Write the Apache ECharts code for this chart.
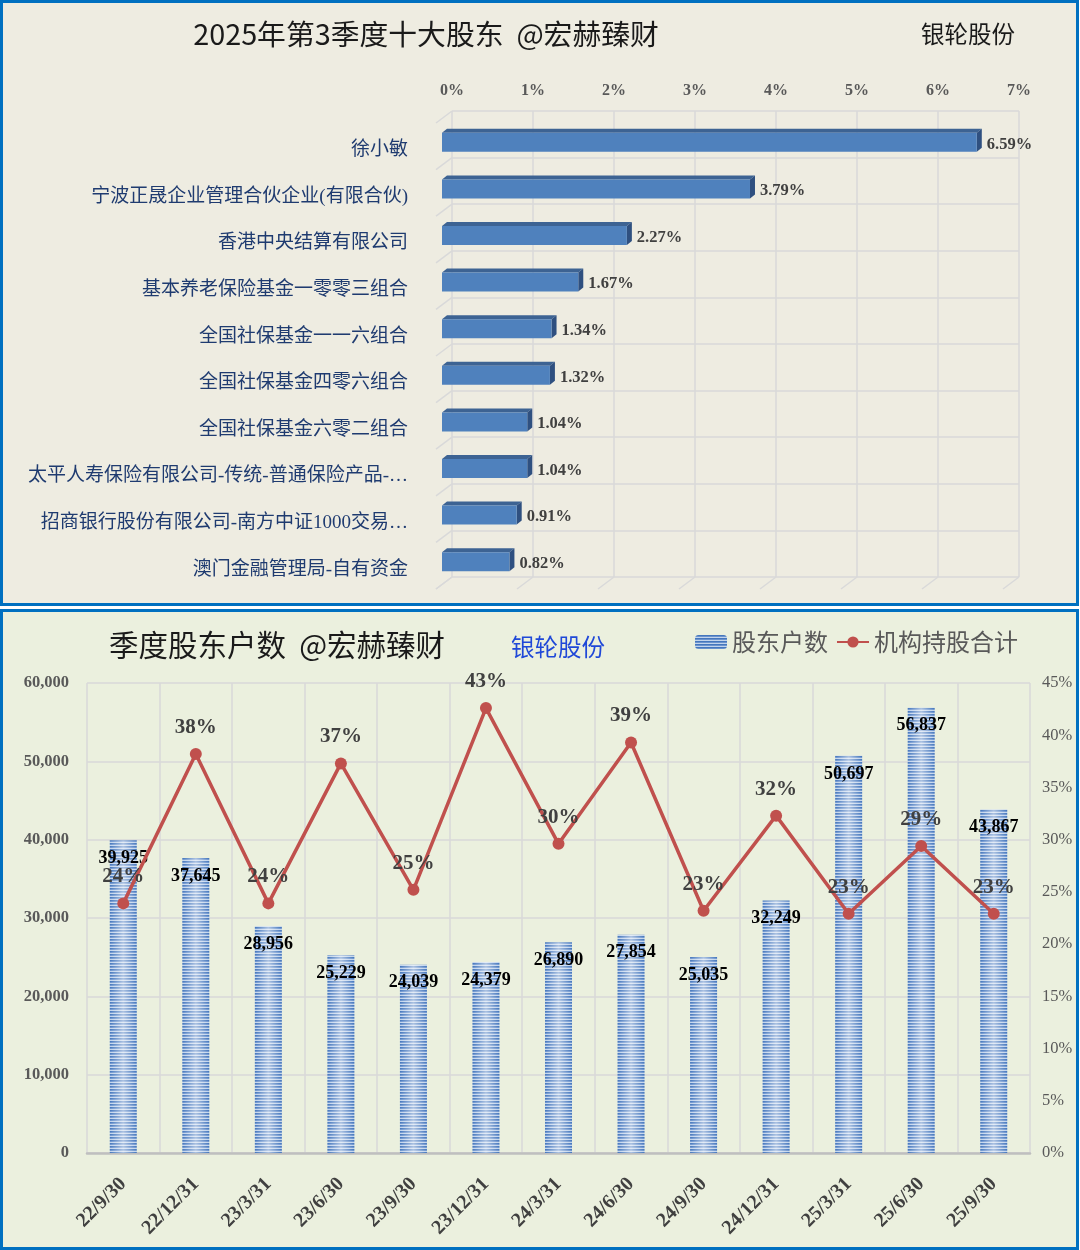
<!DOCTYPE html>
<html><head><meta charset="utf-8">
<script src="https://cdn.jsdelivr.net/npm/echarts@6/dist/echarts.min.js"></script>
<style>html,body{margin:0;padding:0;background:#fff;}#c{width:1080px;height:1250px;}</style>
</head><body><div id="c"></div>
<script>
// ---------- data ----------
const holderNames = [
  '徐小敏',
  '宁波正晟企业管理合伙企业(有限合伙)',
  '香港中央结算有限公司',
  '基本养老保险基金一零零三组合',
  '全国社保基金一一六组合',
  '全国社保基金四零六组合',
  '全国社保基金六零二组合',
  '太平人寿保险有限公司-传统-普通保险产品-…',
  '招商银行股份有限公司-南方中证1000交易…',
  '澳门金融管理局-自有资金'
];
const holderPct = [6.59, 3.79, 2.27, 1.67, 1.34, 1.32, 1.04, 1.04, 0.91, 0.82];

const quarters = ['22/9/30','22/12/31','23/3/31','23/6/30','23/9/30','23/12/31','24/3/31','24/6/30','24/9/30','24/12/31','25/3/31','25/6/30','25/9/30'];
const holderCounts = [39925, 37645, 28956, 25229, 24039, 24379, 26890, 27854, 25035, 32249, 50697, 56837, 43867];
const instPct = [23.9, 38.2, 23.9, 37.3, 25.2, 42.6, 29.6, 39.3, 23.2, 32.3, 22.9, 29.4, 22.9];

// ---------- styles ----------
const SERIF = "'Liberation Serif','Noto Sans CJK SC',serif";
const CJK = "'Noto Sans CJK SC',sans-serif";
const GRID = '#d9d9d9';

function stripePattern() {
  const cv = document.createElement('canvas');
  cv.width = 4; cv.height = 3;
  const ctx = cv.getContext('2d');
  ctx.fillStyle = '#4577bd'; ctx.fillRect(0, 0, 4, 1);
  ctx.fillStyle = '#6b93cd'; ctx.fillRect(0, 1, 4, 1);
  ctx.fillStyle = '#c2d4ec'; ctx.fillRect(0, 2, 4, 1);
  return { image: cv, repeat: 'repeat' };
}
const pattern = stripePattern();

const chart = echarts.init(document.getElementById('c'), null, { renderer: 'canvas' });

const option = {
  animation: false,
  backgroundColor: '#ffffff',
  graphic: [
    { type: 'rect', z: -10, silent: true, shape: { x: 1.5, y: 1.5, width: 1076, height: 603 },
      style: { fill: '#eeece1', stroke: '#0070c0', lineWidth: 3 } },
    { type: 'rect', z: -10, silent: true, shape: { x: 1.5, y: 610.5, width: 1076, height: 638 },
      style: { fill: '#ebf0de', stroke: '#0070c0', lineWidth: 3 } },
    { type: 'text', x: 426, y: 34, style: { text: '2025年第3季度十大股东  @宏赫臻财', font: "28.8px 'Noto Sans CJK SC'", fill: '#1a1a1a', align: 'center', verticalAlign: 'middle' } },
    { type: 'text', x: 968, y: 34, style: { text: '银轮股份', font: "23.5px 'Noto Sans CJK SC'", fill: '#1a1a1a', align: 'center', verticalAlign: 'middle' } },
    { type: 'text', x: 277, y: 645, style: { text: '季度股东户数  @宏赫臻财', font: "29.5px 'Noto Sans CJK SC'", fill: '#1a1a1a', align: 'center', verticalAlign: 'middle' } },
    { type: 'text', x: 558, y: 647, style: { text: '银轮股份', font: "23.5px 'Noto Sans CJK SC'", fill: '#1f48d8', align: 'center', verticalAlign: 'middle' } }
  ],
  legend: {
    left: 695, top: 630, padding: 0, itemWidth: 32, itemHeight: 14, itemGap: 8,
    textStyle: { fontFamily: CJK, fontSize: 24, color: '#595959' },
    data: ['股东户数', '机构持股合计']
  },
  grid: [
    { left: 452, top: 111, width: 567, height: 466 },
    { left: 87, right: 50, top: 683, bottom: 97 }
  ],
  xAxis: [
    { gridIndex: 0, type: 'value', position: 'top', min: 0, max: 7, interval: 1,
      axisLine: { show: false }, axisTick: { show: false },
      splitLine: { lineStyle: { color: GRID, width: 1.5 } },
      axisLabel: { formatter: '{value}%', margin: 12, fontFamily: SERIF, fontWeight: 'bold', fontSize: 16, color: '#595959' } },
    { gridIndex: 1, type: 'category', data: quarters, boundaryGap: true,
      axisTick: { show: false },
      axisLine: { lineStyle: { color: '#bfbfbf', width: 2.5 } },
      splitLine: { show: true, lineStyle: { color: GRID, width: 1.5 } },
      axisLabel: { interval: 0, rotate: 45, margin: 28, fontFamily: SERIF, fontWeight: 'bold', fontSize: 20, color: '#404040' } }
  ],
  yAxis: [
    { gridIndex: 0, type: 'category', data: holderNames, inverse: true,
      axisLine: { show: false }, axisTick: { show: false },
      splitLine: { show: true, lineStyle: { color: GRID, width: 1.5 } },
      axisLabel: { margin: 44, verticalAlign: 'top', lineHeight: 32, fontFamily: SERIF, fontSize: 19, color: '#1f3b70' } },
    { gridIndex: 1, type: 'value', min: 0, max: 60000, interval: 10000,
      axisLine: { show: false }, axisTick: { show: false },
      splitLine: { lineStyle: { color: GRID, width: 1.5 } },
      axisLabel: { margin: 18, formatter: v => v.toLocaleString('en-US'), fontFamily: SERIF, fontWeight: 'bold', fontSize: 16.5, color: '#595959' } },
    { gridIndex: 1, type: 'value', min: 0, max: 45, interval: 5, position: 'right',
      axisLine: { show: false }, axisTick: { show: false }, splitLine: { show: false },
      axisLabel: { margin: 12, formatter: '{value}%', fontFamily: SERIF, fontSize: 16.5, color: '#595959' } }
  ],
  series: [
    {
      type: 'custom', xAxisIndex: 0, yAxisIndex: 0,
      data: holderPct.map((v, i) => [v, i]),
      encode: { x: 0, y: 1 },
      renderItem: function (params, api) {
        const v = api.value(0), c = api.value(1);
        const p0 = api.coord([0, c]);
        const p1 = api.coord([v, c]);
        const x0 = p0[0] - 10, x1 = p1[0] - 9;
        const yc = p0[1] + 8, h = 19;
        const yt = yc - h / 2, yb = yc + h / 2;
        const dx = 5, dy = 4;
        return {
          type: 'group',
          children: [
            { type: 'polygon', shape: { points: [[x0, yt], [x1, yt], [x1 + dx, yt - dy], [x0 + dx, yt - dy]] },
              style: { fill: '#3d6393' } },
            { type: 'polygon', shape: { points: [[x1, yt], [x1 + dx, yt - dy], [x1 + dx, yb - dy], [x1, yb]] },
              style: { fill: '#2f5080' } },
            { type: 'rect', shape: { x: x0, y: yt, width: x1 - x0, height: h },
              style: { fill: '#4f81bd' } },
            { type: 'text', x: x1 + 10, y: yc + 2,
              style: { text: v.toFixed(2) + '%', font: "bold 16.5px 'Liberation Serif'", fill: '#404040', align: 'left', verticalAlign: 'middle' } }
          ]
        };
      }
    },
    {
      name: '股东户数', type: 'bar', xAxisIndex: 1, yAxisIndex: 1, barWidth: 27,
      data: holderCounts,
      itemStyle: { color: pattern },
      label: { show: true, position: 'insideTop', distance: 9, formatter: p => p.value.toLocaleString('en-US'),
        fontFamily: SERIF, fontWeight: 'bold', fontSize: 18, color: '#000' },
      z: 2
    },
    {
      name: '股东户数', type: 'bar', xAxisIndex: 1, yAxisIndex: 1, barWidth: 27, barGap: '-100%',
      data: holderCounts, silent: true,
      itemStyle: { color: { type: 'linear', x: 0, y: 0, x2: 1, y2: 0, colorStops: [
        { offset: 0, color: 'rgba(255,255,255,0)' },
        { offset: 0.5, color: 'rgba(255,255,255,0.55)' },
        { offset: 1, color: 'rgba(255,255,255,0)' } ] } },
      z: 2
    },
    {
      name: '机构持股合计', type: 'line', xAxisIndex: 1, yAxisIndex: 2,
      data: instPct, symbol: 'circle', symbolSize: 12,
      lineStyle: { color: '#c0504d', width: 3.5 },
      itemStyle: { color: '#c0504d' },
      label: { show: true, position: 'top', distance: 10, formatter: p => Math.round(p.value) + '%',
        fontFamily: SERIF, fontWeight: 'bold', fontSize: 21, color: '#404040' },
      z: 5
    }
  ]
};
chart.setOption(option);

// 3D wall/floor diagonals for top chart, computed from the axes
(function () {
  const a = chart.convertToPixel({ xAxisIndex: 0, yAxisIndex: 0 }, [0, 0]);
  const b = chart.convertToPixel({ xAxisIndex: 0, yAxisIndex: 0 }, [1, 1]);
  const band = b[1] - a[1];
  const xL = a[0];
  const yTop = a[1] - band / 2;
  const yBot = yTop + band * holderNames.length;
  const step = b[0] - a[0];
  const lines = [];
  for (let k = 0; k <= holderNames.length; k++) {
    const y = yTop + band * k;
    lines.push({ type: 'line', silent: true, z: -5, shape: { x1: xL, y1: y, x2: xL - 16, y2: y + 12 }, style: { stroke: GRID, lineWidth: 1.5 } });
  }
  for (let k = 0; k <= 7; k++) {
    const x = xL + step * k;
    lines.push({ type: 'line', silent: true, z: -5, shape: { x1: x, y1: yBot, x2: x - 16, y2: yBot + 12 }, style: { stroke: GRID, lineWidth: 1.5 } });
  }
  chart.setOption({ graphic: option.graphic.concat(lines) });
})();
</script>
</body></html>
